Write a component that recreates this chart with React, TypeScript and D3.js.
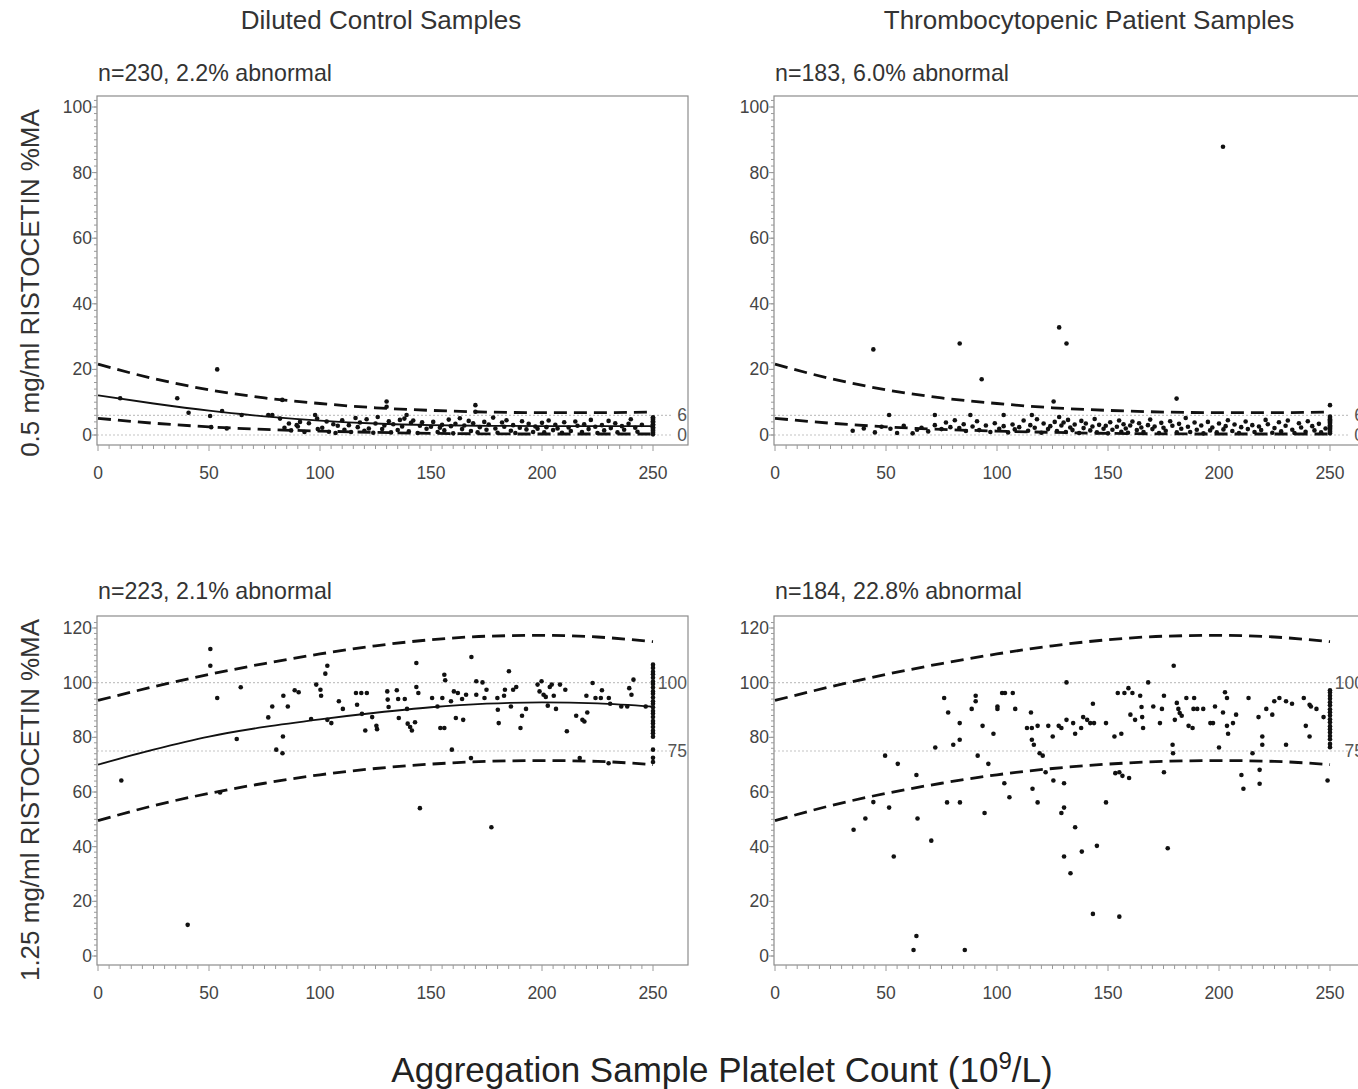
import React from 'react';
import * as d3 from 'd3';

const FONT = "'Liberation Sans', Arial, Helvetica, sans-serif";

// ---------- Text ----------
const columnTitles = ['Diluted Control Samples', 'Thrombocytopenic Patient Samples'];
const rowTitles = ['0.5 mg/ml RISTOCETIN %MA', '1.25 mg/ml RISTOCETIN %MA'];
const subtitles = [
  'n=230, 2.2% abnormal',
  'n=183, 6.0% abnormal',
  'n=223, 2.1% abnormal',
  'n=184, 22.8% abnormal',
];

// ---------- Ticks ----------
const xTicks = [0, 50, 100, 150, 200, 250];
const topYTicks = [0, 20, 40, 60, 80, 100];
const botYTicks = [0, 20, 40, 60, 80, 100, 120];
const topRefLines = [0, 6];
const botRefLines = [75, 100];

// ---------- Curves ----------
const curveX = [0, 25, 50, 75, 100, 125, 150, 175, 200, 225, 250];
const topFit = [12.1, 9.6, 7.4, 5.7, 4.4, 3.5, 3.0, 2.8, 2.7, 2.7, 2.7];
const topUpper = [21.6, 17.2, 13.8, 11.3, 9.6, 8.3, 7.5, 7.0, 6.8, 6.8, 7.0];
const topLower = [5.1, 3.6, 2.5, 1.7, 1.2, 0.8, 0.5, 0.35, 0.3, 0.3, 0.3];
const botFit = [70, 75.5, 80.3, 83.8, 86.6, 89, 91, 92.3, 92.8, 92.4, 91.2];
const botUpper = [93.5, 98.5, 103, 107, 110.5, 113.5, 115.7, 117, 117.3, 116.7, 115];
const botLower = [49.5, 55, 59.5, 63.2, 66.3, 68.6, 70.2, 71.2, 71.5, 71.2, 70];

// ---------- Points ----------
const controlLow: [number, number][] = [
  [10, 11.2], [35.7, 11.2], [53.7, 20], [40.8, 6.8], [50.5, 5.8], [55.9, 7.3], [64.7, 6.1],
  [76.7, 6.1], [78.5, 6.1], [82, 5], [83, 10.7], [86, 3.5], [89.5, 3], [91, 4], [97.8, 6.1],
  [98.7, 5], [130, 10.2], [130, 8.6], [139, 6.1], [170, 9.1], [170, 7.1], [51, 2.4], [58, 2.0],
  [84, 2.2], [87, 1.4], [90, 2.6], [93, 0.9], [95, 3.6], [99, 1.8],
  [101, 2.2], [103, 4.1], [104, 1.0], [106, 3.3], [107, 0.6], [108, 2.8], [110, 4.5], [111, 1.6],
  [113, 3.0], [114, 0.9], [116, 5.2], [117, 2.4], [118, 3.8], [120, 1.3], [121, 4.8], [122, 2.0],
  [124, 0.7], [125, 3.5], [126, 5.5], [128, 1.8], [129, 2.9], [131, 4.2], [132, 0.8], [133, 3.3],
  [135, 1.5], [136, 4.6], [137, 2.6], [138, 5.0], [140, 1.1], [141, 3.7], [142, 4.4], [144, 0.6],
  [145, 2.8], [146, 3.9], [148, 1.9], [150, 2.5], [151, 4.0], [153, 0.9], [154, 2.2], [155, 3.1],
  [156, 1.4], [158, 4.7], [159, 2.7], [160, 0.5], [161, 3.4], [163, 5.1], [164, 1.8], [165, 2.9],
  [167, 4.3], [168, 1.2], [169, 3.6], [171, 0.8], [172, 2.4], [174, 4.0], [175, 1.6], [176, 3.2],
  [178, 5.3], [179, 2.0], [180, 0.7], [182, 3.8], [183, 2.5], [184, 4.5], [186, 1.3], [187, 3.0],
  [188, 0.6], [190, 2.2], [191, 4.2], [193, 1.7], [194, 3.4], [196, 0.9], [197, 2.6], [198, 1.9],
  [200, 3.7], [201, 0.8], [202, 2.4], [203, 4.4], [205, 1.5], [206, 3.1], [207, 2.0], [209, 0.7],
  [210, 3.9], [212, 2.3], [213, 1.2], [215, 4.1], [216, 2.8], [218, 0.9], [219, 3.3], [221, 1.8],
  [222, 4.6], [224, 2.5], [225, 0.6], [227, 3.0], [228, 1.4], [230, 4.3], [231, 2.1], [233, 3.6],
  [234, 0.8], [236, 2.7], [237, 1.6], [239, 3.4], [240, 4.8], [242, 2.2], [243, 1.0], [245, 3.1],
  [250, 0.2], [250, 0.6], [250, 0.9], [250, 1.3], [250, 1.5], [250, 1.9], [250, 2.2], [250, 2.4],
  [250, 2.8], [250, 3.1], [250, 3.3], [250, 3.7], [250, 4.0], [250, 4.2], [250, 4.6], [250, 4.9],
  [250, 5.2], [250, 5.4],
];

const patientLow: [number, number][] = [
  [201.8, 87.9], [44.3, 26.1], [83.2, 27.9], [128, 32.8], [131.3, 27.9], [93.1, 17], [180.9, 11.1],
  [125.5, 10.2], [250, 9.1], [51.4, 6.1], [72, 6.1], [88, 6.1], [103, 6.1], [115.7, 6.1],
  [35, 1.3], [40, 2.0], [45, 0.8], [48, 2.5], [52, 1.9], [55, 0.6], [58, 2.8], [62, 0.5], [64, 1.6],
  [66, 2.2], [69, 1.1], [72, 3.0], [75, 1.8], [77, 3.8], [79, 2.4], [81, 4.5], [83, 2.1], [85, 3.3],
  [86, 1.2], [89, 2.6], [91, 4.2], [92, 1.5], [95, 2.9], [97, 0.9], [99, 3.6], [101, 1.9], [103, 2.7],
  [105, 0.8], [107, 3.2], [108, 1.7], [110, 2.4], [112, 4.4], [114, 1.3], [115, 3.0], [117, 2.2],
  [118, 4.8], [120, 0.7], [121, 3.5], [123, 1.8], [124, 2.7], [126, 4.0], [127, 1.2], [128, 5.5],
  [129, 2.9], [130, 3.8], [131, 0.9], [132, 4.6], [133, 2.3], [134, 1.5], [135, 3.2], [137, 0.6],
  [138, 4.3], [139, 2.1], [140, 3.5], [142, 1.4], [143, 2.6], [144, 4.9], [145, 0.8], [146, 3.1],
  [148, 1.9], [149, 2.8], [150, 0.5], [151, 3.9], [152, 1.6], [154, 2.5], [155, 4.4], [156, 1.0],
  [157, 3.3], [158, 2.0], [159, 0.7], [160, 2.9], [161, 4.1], [163, 1.5], [164, 3.6], [165, 2.3],
  [166, 0.9], [168, 3.0], [169, 4.7], [170, 1.8], [171, 2.6], [173, 0.6], [174, 3.7], [175, 2.2],
  [176, 1.3], [178, 4.2], [179, 2.8], [181, 0.8], [182, 3.4], [183, 1.9], [185, 5.2], [186, 2.5],
  [187, 0.9], [189, 3.8], [190, 1.6], [192, 2.9], [193, 0.5], [195, 4.0], [196, 1.4], [197, 2.3],
  [199, 0.8], [200, 3.5], [202, 1.7], [203, 2.7], [204, 4.5], [206, 1.2], [207, 3.2], [209, 0.6],
  [210, 2.4], [212, 4.1], [213, 1.8], [215, 3.0], [216, 0.9], [218, 2.6], [219, 1.5], [221, 4.6],
  [222, 3.3], [224, 0.7], [225, 2.1], [227, 3.9], [228, 1.1], [230, 2.8], [231, 4.4], [233, 1.6],
  [234, 0.6], [236, 3.6], [237, 2.3], [239, 1.0], [240, 4.2], [242, 2.7], [243, 1.4], [245, 3.4],
  [246, 0.8], [248, 2.0],
  [250, 0.5], [250, 0.9], [250, 1.2], [250, 1.6], [250, 2.0], [250, 2.3], [250, 2.7], [250, 3.0],
  [250, 3.4], [250, 3.8], [250, 4.1], [250, 4.5], [250, 4.8], [250, 5.2], [250, 5.6],
];

const controlHigh: [number, number][] = [
  [10.5, 64.2], [40.4, 11.4], [50.6, 112.3], [50.6, 106.2], [53.7, 94.4], [62.5, 79.4], [64.3, 98.3],
  [76.7, 87.3], [78.5, 91.3], [80.3, 75.5], [83.1, 74.2], [83.3, 80.3], [83.5, 95.2], [85.5, 91.3],
  [88.6, 97.2], [90.4, 96.5], [96, 86.7], [98.3, 99.3], [100.2, 97.4], [100.5, 95.2], [102.4, 103.3],
  [103.3, 106.2], [103.3, 86.4], [105.1, 85.2], [108.5, 93.2], [110.3, 90.4], [116.2, 96.2],
  [116.7, 91.9], [118.6, 96.2], [118.9, 88.6], [120.4, 82.5], [121.1, 96.2], [123.5, 87.4],
  [125.4, 84.2], [125.7, 83], [130.3, 96.8], [130.5, 93.8], [130.9, 91.1], [134.6, 97.2],
  [135.2, 94], [135.5, 87.1], [138.2, 94], [139.2, 90.4], [139.5, 85], [140.6, 83.8], [141.4, 82.5],
  [142.8, 85.5], [143.4, 107.2], [143.4, 98.4], [144.3, 96.2], [145, 54.1], [150.5, 94.4],
  [152.9, 91.3], [154.2, 83.4], [155.1, 94.4], [156, 83.4], [156, 102.9], [156.4, 100.9], [159, 93.2],
  [159.4, 75.5], [160.3, 96.8], [161.2, 87.1], [162.1, 96.2], [164, 94], [164.5, 86.4], [165.8, 95.6],
  [168.2, 109.4], [170.4, 100.5], [170.4, 95.6], [173.2, 100.1], [174.1, 94.4], [175, 97.4],
  [177.2, 47.1], [179.9, 94.4], [180.1, 90.1], [180.5, 85.2], [182.9, 95.2], [183.3, 97.4],
  [185.1, 104.2], [186, 91.3], [187, 97.4], [188.4, 98.4], [190.3, 83.4], [191, 87.9], [192.8, 90.4],
  [198, 99.3], [198.9, 96.8], [199.8, 100.5], [200.7, 95.6], [201.7, 94.8], [202.6, 91.6],
  [203.5, 98.4], [204.4, 99.3], [205.3, 95.2], [206.3, 90.4], [208.1, 99.3], [210.5, 97.4],
  [211.2, 82.2], [215.4, 87.9], [218.2, 86.4], [219.1, 85.8], [220, 95.2], [220.4, 89.1],
  [222.8, 99.9], [224.1, 94.4], [226.5, 94.4], [227, 97.2], [230.1, 94.4], [230.7, 92.3],
  [235.7, 91.3], [238.4, 91.3], [239.3, 98], [240.3, 95.6], [241.2, 101.1], [246.7, 91.3],
  [55, 59.8], [168, 72.4], [217, 72.4], [230, 70.5],
  [250, 80.2], [250, 81.5], [250, 82.4], [250, 83.8], [250, 85.1], [250, 86.0], [250, 87.4],
  [250, 88.7], [250, 89.6], [250, 91.0], [250, 92.3], [250, 93.2], [250, 94.6], [250, 95.9],
  [250, 96.8], [250, 98.2], [250, 99.5], [250, 100.4], [250, 101.8], [250, 103.1], [250, 104.0],
  [250, 105.4], [250, 106.6], [250, 75.5], [250, 72.5], [250, 71.0],
];

const patientHigh: [number, number][] = [
  [62.4, 2.2], [63.7, 7.3], [85.5, 2.2], [143.2, 15.4], [155.1, 14.4], [133.1, 30.3], [130.2, 36.4],
  [138.2, 38.2], [145, 40.3], [176.9, 39.4], [135.2, 47.1], [53.5, 36.4], [70.4, 42.2], [35.4, 46.2],
  [40.7, 50.3], [64.2, 50.3], [51.4, 54.3], [44.3, 56.3], [77.5, 56.2], [83.3, 56.2], [94.4, 52.3],
  [129, 52.3], [130.2, 54.3], [149.1, 56.2], [105.6, 58.1], [118.3, 56.2], [116, 61.2], [103.3, 63.2],
  [125.4, 64.2], [130.2, 63.2], [63.7, 66.2], [49.6, 73.3], [55.3, 70.3], [72.2, 76.3], [80.3, 77.3],
  [83.2, 79.1], [83.2, 85.2], [78, 89.1], [76.2, 94.4], [88.6, 90.4], [90.4, 93.2], [90.4, 95.2],
  [91.3, 73.3], [93.5, 84.2], [96.1, 70.3], [98.4, 81.3], [100.2, 90.4], [100.2, 91.3], [102.3, 96.2],
  [103.6, 96.2], [107.1, 96.2], [108.2, 90.4], [113.5, 83.4], [115.7, 83.4], [115.3, 89.1],
  [115.7, 79.1], [116.6, 77.3], [118.3, 84.2], [119.2, 74.2], [120.6, 73.3], [121.9, 67.2],
  [123.1, 84.2], [125.1, 80.3], [127.8, 84.2], [129, 83.4], [131.3, 100.1], [131.3, 86.4],
  [134.3, 85.2], [135.2, 81.3], [137.9, 83.4], [138.8, 87.4], [140.6, 86.4], [142, 85.2],
  [143.2, 92.3], [143.7, 85.2], [149.1, 85.2], [152.9, 80.3], [153.3, 66.9], [154.4, 96.2],
  [155.1, 67.2], [156, 81.3], [156.5, 65.9], [157.4, 96.2], [159.2, 98], [159.5, 65.1], [160.1, 88.3],
  [161, 96.2], [162.2, 86.4], [164.5, 95.2], [165.1, 91.1], [165.4, 87.4], [165.8, 83.4],
  [168.1, 100.1], [170.4, 91.3], [173.4, 85.2], [174.3, 90.4], [175.2, 95.2], [175.2, 67.2],
  [179.1, 77.3], [179.3, 74.2], [179.6, 106.2], [180.1, 86.4], [181, 92.6], [181.7, 90.4],
  [182.3, 88.9], [183.2, 87.9], [185.3, 94.4], [186.3, 84.2], [188.1, 83.4], [188.5, 90.4],
  [188.8, 94.4], [190.2, 90.4], [192.9, 90.4], [196.1, 85.2], [197.3, 85.2], [198.2, 91.3],
  [200, 76.3], [201.8, 89.1], [202.7, 96.5], [203.6, 94.4], [204.1, 81.3], [203.6, 84.2],
  [206.3, 85.2], [207.7, 88.3], [210.1, 66.2], [211, 61.2], [213.3, 94.4], [215.1, 74.2],
  [217.8, 87.4], [218.3, 68.1], [218.3, 63], [219.5, 80.3], [219.5, 77.3], [221.3, 90.4],
  [224, 88.3], [224.9, 93.2], [227.2, 94.4], [230.2, 77.3], [230.2, 93.2], [232.9, 92.3],
  [238.2, 94.4], [239.1, 84.2], [240.8, 80.3], [240.8, 91.9], [241.4, 91.3], [243.9, 90.4],
  [247.1, 87.4], [248.9, 64.2],
  [250, 76.4], [250, 77.6], [250, 79.3], [250, 80.5], [250, 81.8], [250, 83.0], [250, 84.1],
  [250, 85.5], [250, 86.6], [250, 88.0], [250, 89.2], [250, 90.3], [250, 91.7], [250, 92.8],
  [250, 94.1], [250, 95.2], [250, 96.4], [250, 97.2],
];

// ---------- Layout constants ----------
const W = 1358;
const H = 1089;
const COL_OFFSET = 677;

type PanelProps = {
  ox: number;
  frameTop: number;
  frameBottom: number;
  yMax: number;
  yMaxPx: number;
  yZeroPx: number;
  yTicks: number[];
  refLines: number[];
  points: [number, number][];
  fit?: number[];
  upper: number[];
  lower: number[];
  subtitle: string;
  subtitleY: number;
};

function Panel(p: PanelProps) {
  const frameLeft = 97 + p.ox;
  const frameRight = 688 + p.ox;
  const x = d3.scaleLinear().domain([0, 250]).range([98 + p.ox, 653 + p.ox]);
  const y = d3.scaleLinear().domain([0, p.yMax]).range([p.yZeroPx, p.yMaxPx]);
  const line = d3
    .line<number>()
    .x((_, i) => x(curveX[i]))
    .y((d) => y(d))
    .curve(d3.curveMonotoneX);

  const xMinor = d3.range(0, 251, 5);
  const yMinor = d3.range(0, p.yMax + 3, 2);
  const axisColor = '#8c8c8c';
  const tickColor = '#9a9a9a';

  return (
    <g>
      <text x={98 + p.ox} y={p.subtitleY} fontSize={23.2} fill="#333" fontFamily={FONT}>
        {p.subtitle}
      </text>
      {/* reference lines */}
      {p.refLines.map((v) => (
        <g key={'r' + v}>
          <line
            x1={frameLeft}
            x2={frameRight - 16}
            y1={y(v)}
            y2={y(v)}
            stroke="#c4c4c4"
            strokeWidth={1.2}
            strokeDasharray="2,2"
          />
          <text
            x={frameRight - 1}
            y={y(v) + 6}
            textAnchor="end"
            fontSize={17.5}
            fill="#555"
            fontFamily={FONT}
          >
            {v}
          </text>
        </g>
      ))}
      {/* frame */}
      <rect
        x={frameLeft}
        y={p.frameTop}
        width={frameRight - frameLeft}
        height={p.frameBottom - p.frameTop}
        fill="none"
        stroke={axisColor}
        strokeWidth={1.2}
      />
      {/* x ticks */}
      {xMinor.map((v) => (
        <line
          key={'xm' + v}
          x1={x(v)}
          x2={x(v)}
          y1={p.frameBottom}
          y2={p.frameBottom + (v % 50 === 0 ? 6 : 4)}
          stroke={tickColor}
          strokeWidth={1}
        />
      ))}
      {xTicks.map((v) => (
        <text
          key={'xl' + v}
          x={x(v)}
          y={p.frameBottom + 34}
          textAnchor="middle"
          fontSize={17.5}
          fill="#444"
          fontFamily={FONT}
        >
          {v}
        </text>
      ))}
      {/* y ticks */}
      {yMinor.map((v) => (
        <line
          key={'ym' + v}
          x1={frameLeft}
          x2={frameLeft - 3}
          y1={y(v)}
          y2={y(v)}
          stroke={tickColor}
          strokeWidth={1}
        />
      ))}
      {p.yTicks.map((v) => (
        <g key={'yl' + v}>
          <line x1={frameLeft} x2={frameLeft - 5} y1={y(v)} y2={y(v)} stroke={tickColor} strokeWidth={1} />
          <text
            x={frameLeft - 5}
            y={y(v) + 6}
            textAnchor="end"
            fontSize={17.5}
            fill="#444"
            fontFamily={FONT}
          >
            {v}
          </text>
        </g>
      ))}
      {/* curves */}
      <path d={line(p.upper) || ''} fill="none" stroke="#111" strokeWidth={2.8} strokeDasharray="13,7" />
      <path d={line(p.lower) || ''} fill="none" stroke="#111" strokeWidth={2.8} strokeDasharray="13,7" />
      {p.fit && <path d={line(p.fit) || ''} fill="none" stroke="#111" strokeWidth={1.8} />}
      {/* points */}
      {p.points.map((d, i) => (
        <circle key={'p' + i} cx={x(d[0])} cy={y(d[1])} r={2.3} fill="#111" />
      ))}
    </g>
  );
}

export default function App() {
  const top = { frameTop: 96, frameBottom: 445, yMax: 100, yMaxPx: 107, yZeroPx: 435, yTicks: topYTicks, refLines: topRefLines, subtitleY: 81 };
  const bot = { frameTop: 616, frameBottom: 965, yMax: 120, yMaxPx: 628, yZeroPx: 956, yTicks: botYTicks, refLines: botRefLines, subtitleY: 599 };
  return (
    <svg
      width={W}
      height={H}
      viewBox={`0 0 ${W} ${H}`}
      style={{ position: 'absolute', left: 0, top: 0, background: '#fff' }}
      fontFamily={FONT}
    >
      <rect x={0} y={0} width={W} height={H} fill="#fff" />
      <text x={381} y={29} textAnchor="middle" fontSize={26} fill="#333">{columnTitles[0]}</text>
      <text x={1089} y={29} textAnchor="middle" fontSize={26} fill="#333">{columnTitles[1]}</text>
      <text transform="translate(39,283) rotate(-90)" textAnchor="middle" fontSize={26} fill="#333">{rowTitles[0]}</text>
      <text transform="translate(39,800) rotate(-90)" textAnchor="middle" fontSize={26} fill="#333">{rowTitles[1]}</text>

      <Panel ox={0} {...top} points={controlLow} fit={topFit} upper={topUpper} lower={topLower} subtitle={subtitles[0]} />
      <Panel ox={COL_OFFSET} {...top} points={patientLow} upper={topUpper} lower={topLower} subtitle={subtitles[1]} />
      <Panel ox={0} {...bot} points={controlHigh} fit={botFit} upper={botUpper} lower={botLower} subtitle={subtitles[2]} />
      <Panel ox={COL_OFFSET} {...bot} points={patientHigh} upper={botUpper} lower={botLower} subtitle={subtitles[3]} />

      <text x={722} y={1082} textAnchor="middle" fontSize={35} fill="#222">
        Aggregation Sample Platelet Count (10
        <tspan fontSize={24} dy={-13}>9</tspan>
        <tspan dy={13}>/L)</tspan>
      </text>
    </svg>
  );
}
